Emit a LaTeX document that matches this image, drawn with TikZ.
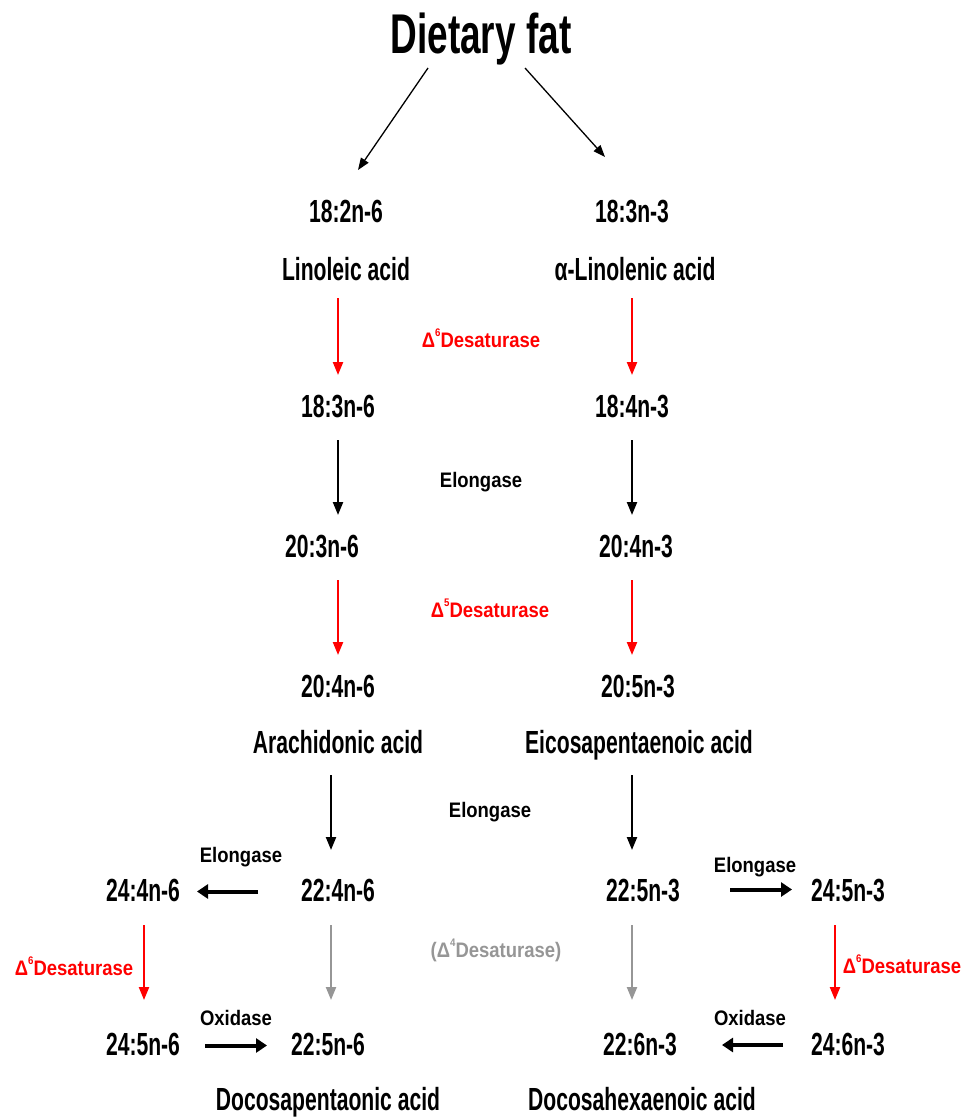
\documentclass[tikz,border=0pt]{standalone}
\usepackage{fontspec}
\newfontfamily\mainf{Liberation Sans}[FakeStretch=0.66]
\newfontfamily\enzf{Liberation Sans}[FakeStretch=0.88]
\usetikzlibrary{arrows.meta}
\definecolor{enzred}{RGB}{255,0,0}
\definecolor{enzgray}{RGB}{150,150,150}
\newcommand{\dsup}[1]{\raisebox{0.5em}{\fontsize{11}{11}\selectfont #1}}
\begin{document}
\begin{tikzpicture}[x=1pt,y=-1pt,
  lbl/.style={inner sep=0pt, text height=23pt, text depth=0pt, font=\mainf\bfseries\fontsize{32}{32}\selectfont},
  enz/.style={inner sep=0pt, text height=15pt, text depth=0pt, font=\enzf\bfseries\fontsize{21}{21}\selectfont},
  ttl/.style={inner sep=0pt, text height=40pt, text depth=0pt, font=\mainf\bfseries\fontsize{56}{56}\selectfont},
  varr/.style={line width=2.2pt, -{Triangle[length=13pt,width=10pt]}},
  harr/.style={line width=4pt, black, -{Triangle[length=11pt,width=14pt]}},
  tarr/.style={line width=1.3pt, -{Triangle[length=12pt,width=9pt]}},
  redarr/.style={varr, draw=enzred, color=enzred},
  grayarr/.style={varr, draw=enzgray, color=enzgray},
  blkarr/.style={varr, black}
]
\useasboundingbox (0,0) rectangle (971,1119);

% column coordinates for vertical arrows
\coordinate (cL) at (338,0);
\coordinate (cL2) at (331,0);
\coordinate (cR) at (632,0);
\coordinate (cLL) at (144,0);
\coordinate (cRR) at (835,0);

% title
\node[ttl] (title) at (481,33) {Dietary fat};
\coordinate (tl1) at (428,68);
\coordinate (tl2) at (358,170);
\coordinate (tr1) at (525,68);
\coordinate (tr2) at (605,157);

% n-6 column
\node[lbl] (a1) at (346,210.5) {18:2n-6};
\node[lbl] (a1n) at (346,268.5) {Linoleic acid};
\node[lbl] (a2) at (338,405.5) {18:3n-6};
\node[lbl] (a3) at (322,545.5) {20:3n-6};
\node[lbl] (a4) at (338,685.5) {20:4n-6};
\node[lbl] (a4n) at (338,741.5) {Arachidonic acid};
\node[lbl] (a5) at (338,889.5) {22:4n-6};
\node[lbl] (a6) at (143,889.5) {24:4n-6};
\node[lbl] (a7) at (143,1043.5) {24:5n-6};
\node[lbl] (a8) at (328,1043.5) {22:5n-6};
\node[lbl] (a8n) at (328,1098.5) {Docosapentaonic acid};

% n-3 column
\node[lbl] (b1) at (632,210.5) {18:3n-3};
\node[lbl] (b1n) at (635,268.5) {α-Linolenic acid};
\node[lbl] (b2) at (632,405.5) {18:4n-3};
\node[lbl] (b3) at (636,545.5) {20:4n-3};
\node[lbl] (b4) at (638,685.5) {20:5n-3};
\node[lbl] (b4n) at (639,741.5) {Eicosapentaenoic acid};
\node[lbl] (b5) at (643,889.5) {22:5n-3};
\node[lbl] (b6) at (848,889.5) {24:5n-3};
\node[lbl] (b7) at (848,1043.5) {24:6n-3};
\node[lbl] (b8) at (640,1043.5) {22:6n-3};
\node[lbl] (b8n) at (642,1098.5) {Docosahexaenoic acid};

% enzyme labels
\node[enz, text=enzred] (e1) at (481,339.5) {Δ\dsup{6}Desaturase};
\node[enz] (e2) at (481,479.5) {Elongase};
\node[enz, text=enzred] (e3) at (490,609.5) {Δ\dsup{5}Desaturase};
\node[enz] (e4) at (490,809.5) {Elongase};
\node[enz] (e5) at (241,854.5) {Elongase};
\node[enz] (e6) at (755,864.5) {Elongase};
\node[enz, text=enzred] (e7) at (74,967.5) {Δ\dsup{6}Desaturase};
\node[enz, text=enzgray] (e8) at (496,949.5) {(Δ\dsup{4}Desaturase)};
\node[enz, text=enzred] (e9) at (902,965.5) {Δ\dsup{6}Desaturase};
\node[enz] (e10) at (236,1017.5) {Oxidase};
\node[enz] (e11) at (750,1017.5) {Oxidase};

% title arrows
\draw[tarr] (tl1) -- (tl2);
\draw[tarr] (tr1) -- (tr2);

% n-6 vertical arrows
\draw[redarr, shorten <=29.5pt, shorten >=30.5pt] (a1n -| cL) -- (a2 -| cL);
\draw[blkarr, shorten <=34.5pt, shorten >=30.5pt] (a2 -| cL) -- (a3 -| cL);
\draw[redarr, shorten <=34.5pt, shorten >=30.5pt] (a3 -| cL) -- (a4 -| cL);
\draw[blkarr, shorten <=33.5pt, shorten >=39.5pt] (a4n -| cL2) -- (a5 -| cL2);
\draw[grayarr, shorten <=35.5pt, shorten >=43.5pt] (a5 -| cL2) -- (a8 -| cL2);
\draw[redarr, shorten <=35.5pt, shorten >=43.5pt] (a6 -| cLL) -- (a7 -| cLL);

% n-3 vertical arrows
\draw[redarr, shorten <=29.5pt, shorten >=30.5pt] (b1n -| cR) -- (b2 -| cR);
\draw[blkarr, shorten <=34.5pt, shorten >=30.5pt] (b2 -| cR) -- (b3 -| cR);
\draw[redarr, shorten <=34.5pt, shorten >=30.5pt] (b3 -| cR) -- (b4 -| cR);
\draw[blkarr, shorten <=33.5pt, shorten >=39.5pt] (b4n -| cR) -- (b5 -| cR);
\draw[grayarr, shorten <=35.5pt, shorten >=43.5pt] (b5 -| cR) -- (b8 -| cR);
\draw[redarr, shorten <=35.5pt, shorten >=43.5pt] (b6 -| cRR) -- (b7 -| cRR);

% horizontal arrows
\draw[harr, shorten <=80pt, shorten >=54pt] ([yshift=-2pt]a5.center) -- ([yshift=-2pt]a6.center);
\draw[harr, shorten <=87pt, shorten >=56pt] (b5.center) -- (b6.center);
\draw[harr, shorten <=62pt, shorten >=61pt] ([yshift=-2pt]a7.center) -- ([yshift=-2pt]a8.center);
\draw[harr, shorten <=65pt, shorten >=82pt] ([yshift=-1.5pt]b7.center) -- ([yshift=-1.5pt]b8.center);
\end{tikzpicture}
\end{document}
